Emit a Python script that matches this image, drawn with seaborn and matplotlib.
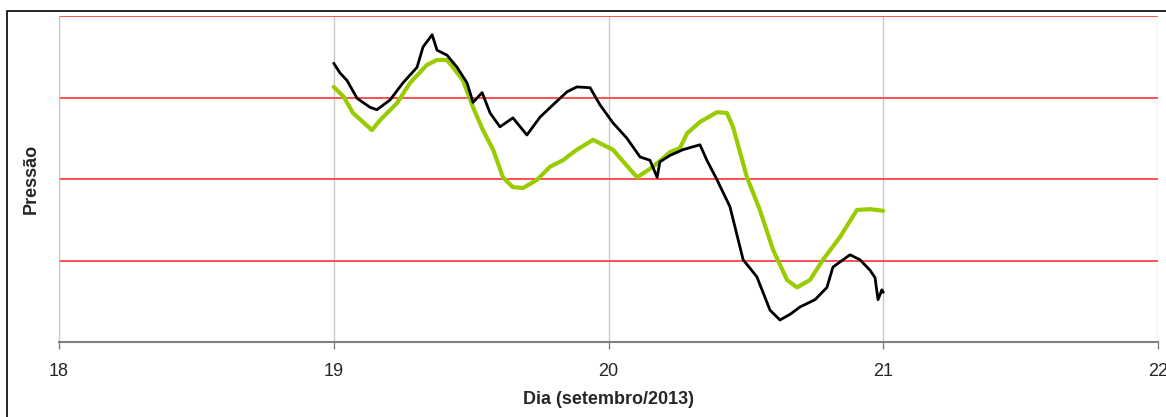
import numpy as np
import pandas as pd
import seaborn as sns
import matplotlib.pyplot as plt
from matplotlib.patches import Rectangle

## Data (dia, pressão em unidades de grade)
dia_preto = [19.000, 19.023, 19.048, 19.085, 19.132, 19.157, 19.205, 19.252, 19.303, 19.325,
             19.358, 19.376, 19.412, 19.449, 19.485, 19.507, 19.540, 19.569, 19.605, 19.652,
             19.703, 19.751, 19.798, 19.849, 19.885, 19.933, 19.969, 20.016, 20.067, 20.115,
             20.151, 20.177, 20.187, 20.224, 20.271, 20.333, 20.358, 20.395, 20.442, 20.490,
             20.540, 20.588, 20.624, 20.661, 20.697, 20.752, 20.795, 20.817, 20.879, 20.915,
             20.952, 20.970, 20.981, 20.995, 21.000]
pressao_preto = [3.42, 3.30, 3.21, 2.99, 2.88, 2.85, 2.97, 3.18, 3.37, 3.62,
                 3.77, 3.58, 3.52, 3.37, 3.18, 2.94, 3.06, 2.81, 2.64, 2.75,
                 2.54, 2.76, 2.91, 3.07, 3.13, 3.12, 2.91, 2.69, 2.50, 2.27,
                 2.23, 2.02, 2.21, 2.29, 2.36, 2.42, 2.23, 1.99, 1.66, 1.01,
                 0.80, 0.39, 0.27, 0.34, 0.43, 0.52, 0.67, 0.92, 1.07, 1.01,
                 0.88, 0.79, 0.52, 0.64, 0.61]

dia_verde = [19.000, 19.036, 19.070, 19.139, 19.168, 19.230, 19.278, 19.339, 19.376, 19.412,
             19.434, 19.470, 19.507, 19.543, 19.580, 19.616, 19.652, 19.689, 19.740, 19.787,
             19.834, 19.885, 19.944, 19.980, 20.016, 20.104, 20.162, 20.224, 20.260, 20.286,
             20.333, 20.395, 20.431, 20.453, 20.504, 20.551, 20.599, 20.650, 20.686, 20.733,
             20.781, 20.843, 20.904, 20.952, 21.000]
pressao_verde = [3.13, 3.01, 2.81, 2.60, 2.72, 2.93, 3.18, 3.40, 3.46, 3.46,
                 3.37, 3.21, 2.88, 2.60, 2.36, 2.02, 1.90, 1.89, 1.99, 2.15,
                 2.23, 2.36, 2.48, 2.42, 2.36, 2.02, 2.15, 2.33, 2.38, 2.56,
                 2.70, 2.82, 2.81, 2.64, 2.02, 1.62, 1.13, 0.76, 0.67, 0.76,
                 1.01, 1.29, 1.62, 1.63, 1.61]

x_ticks = [18, 19, 20, 21, 22]
y_grid = [1, 2, 3, 4]

sns.set_style("white")
plt.rcParams['font.family'] = ['Liberation Sans', 'DejaVu Sans']

fig = plt.figure(figsize=(11.66, 4.17), dpi=100)
ax = fig.add_axes([59 / 1166, 1 - 342 / 417, (1158 - 59) / 1166, (342 - 16) / 417])

# moldura externa
fig.patches.append(Rectangle((7 / 1166, -0.1), 1.1, 1 - 11 / 417 + 0.1, transform=fig.transFigure,
                             fill=False, edgecolor='black', linewidth=1.2, clip_on=False))

for x in x_ticks:
    ax.axvline(x, color='#c8c8c8', linewidth=1, zorder=0)
for y in y_grid:
    ax.axhline(y, color='#ff5050', linewidth=1.4, zorder=1)

sns.lineplot(x=dia_verde, y=pressao_verde, color='#99cc00', linewidth=3.0, ax=ax, zorder=3)
sns.lineplot(x=dia_preto, y=pressao_preto, color='black', linewidth=2.0, ax=ax, zorder=4)

ax.set_xlim(18, 22)
ax.set_ylim(0, 4)
ax.set_xticks(x_ticks)
ax.set_xticklabels([str(t) for t in x_ticks], fontsize=13)
ax.set_yticks([])
ax.tick_params(axis='x', direction='out', length=5, width=1, color='#808080', pad=10, bottom=True)

for s in ['top', 'right']:
    ax.spines[s].set_visible(False)
ax.spines['left'].set_color('#c8c8c8')
ax.spines['bottom'].set_color('#808080')
ax.spines['bottom'].set_linewidth(1.5)

ax.set_xlabel('Dia (setembro/2013)', fontsize=13, fontweight='bold', labelpad=8)
ax.set_ylabel('Pressão', fontsize=13, fontweight='bold', labelpad=14)

plt.savefig('out.png', dpi=100)
